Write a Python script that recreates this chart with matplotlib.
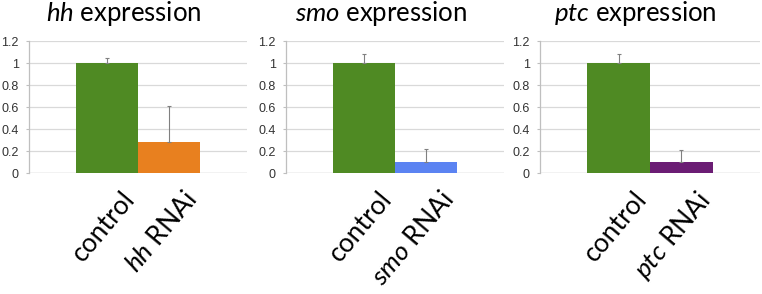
import matplotlib
matplotlib.use("Agg")
import matplotlib.pyplot as plt
import matplotlib.transforms as mtransforms

plt.rcParams['font.family'] = ['Lato', 'DejaVu Sans']
plt.rcParams['mathtext.fontset'] = 'custom'
plt.rcParams['mathtext.rm'] = 'Lato'
plt.rcParams['mathtext.it'] = 'Lato:italic'

genes = ['hh', 'smo', 'ptc']
control_vals = [1.0, 1.0, 1.0]
control_err = [0.05, 0.08, 0.08]
rnai_vals = [0.28, 0.10, 0.10]
rnai_err = [0.33, 0.12, 0.11]
rnai_colors = ['#e8801f', '#5b83f2', '#6b1d74']
control_color = '#4f8a23'
yticks = [0, 0.2, 0.4, 0.6, 0.8, 1, 1.2]
ytick_labels = ['0', '0.2', '0.4', '0.6', '0.8', '1', '1.2']

W, H = 762, 294
fig = plt.figure(figsize=(W / 100, H / 100), dpi=100)

# axes boxes in pixels (left, right), y from 41 (1.2) to 173 (0)
boxes = [(29, 247), (286, 504), (540, 760)]
top_px, bot_px = 41, 173

for i, g in enumerate(genes):
    l, r = boxes[i]
    ax = fig.add_axes([l / W, 1 - bot_px / H, (r - l) / W, (bot_px - top_px) / H])
    ax.set_axisbelow(True)
    ax.yaxis.grid(True, color='#d9d9d9', lw=0.9)
    ax.bar([0], [control_vals[i]], width=1, color=control_color, zorder=2)
    ax.bar([1], [rnai_vals[i]], width=1, color=rnai_colors[i], zorder=2)
    ax.errorbar([0, 1], [control_vals[i], rnai_vals[i]],
                yerr=[[0, 0], [control_err[i], rnai_err[i]]],
                fmt='none', ecolor='#808080', elinewidth=0.8, capsize=1.5,
                capthick=0.8, zorder=3)
    ax.set_xlim(-1.25, 2.25)
    ax.set_ylim(0, 1.2)
    ax.set_yticks(yticks)
    ax.set_yticklabels(ytick_labels, fontsize=9, color='#333333',
                       family=['Liberation Sans', 'DejaVu Sans'])
    for s in ['top', 'right', 'bottom']:
        ax.spines[s].set_visible(False)
    ax.spines['left'].set_color('#bfbfbf')
    ax.spines['left'].set_linewidth(0.9)
    ax.tick_params(axis='y', length=2.5, color='#bfbfbf', pad=5)
    ax.axhline(0, color='#bfbfbf', lw=0.9, zorder=1)
    ax.set_xticks([0, 1])
    ax.set_xticklabels(['control', r'$\mathit{%s}$ RNAi' % g],
                       rotation=50, ha='right', va='top',
                       rotation_mode='anchor', fontsize=19)
    ax.tick_params(axis='x', length=0, pad=10)
    shift = mtransforms.ScaledTranslation(14 / 100, 0, fig.dpi_scale_trans)
    for lab in ax.get_xticklabels():
        lab.set_transform(lab.get_transform() + shift)
    ax.text(0.435, 1.1, r'$\mathit{%s}$ expression' % g, transform=ax.transAxes,
            ha='center', va='bottom', fontsize=18.5)

fig.savefig('out.png', dpi=100)
